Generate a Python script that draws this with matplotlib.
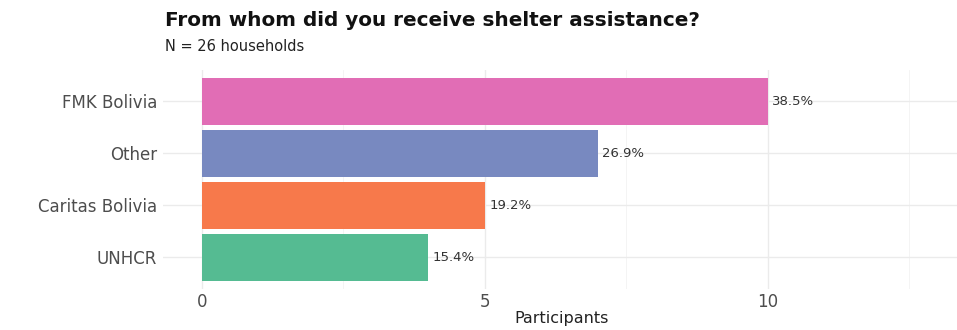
import matplotlib.pyplot as plt
from matplotlib.ticker import MultipleLocator

plt.rcParams['font.family'] = ['DejaVu Sans']

categories = ["UNHCR", "Caritas Bolivia", "Other", "FMK Bolivia"]
counts = [4, 5, 7, 10]
colors = ["#55BB92", "#F7794B", "#7889C0", "#E16DB5"]
total = 26

fig = plt.figure(figsize=(9.57, 3.30), dpi=100)
ax = fig.add_axes([0.170, 0.125, 0.833, 0.663])

ypos = range(1, len(categories) + 1)
ax.barh(list(ypos), counts, height=0.9, color=colors, zorder=2)
for y, c in zip(ypos, counts):
    ax.text(c + 0.08, y, "{:.1f}%".format(100 * c / total), va="center", ha="left",
            fontsize=9.5, color="#333333", zorder=3)

ax.set_xlim(-0.69, 13.4)
ax.set_ylim(0.4, 4.6)
ax.set_yticks(list(ypos))
ax.set_yticklabels(categories)
ax.xaxis.set_major_locator(MultipleLocator(5))
ax.xaxis.set_minor_locator(MultipleLocator(2.5))
ax.grid(True, which="major", color="#ebebeb", linewidth=1.0, zorder=0)
ax.grid(True, which="minor", axis="x", color="#f3f3f3", linewidth=0.6, zorder=0)
ax.tick_params(which="both", length=0, labelsize=12, labelcolor="#4d4d4d")
ax.tick_params(axis="x", pad=3)
ax.tick_params(axis="y", pad=4)
for s in ax.spines.values():
    s.set_visible(False)

ax.set_xlabel("Participants", fontsize=11.5, color="#222222", labelpad=0)
fig.text(0.172, 0.937, "From whom did you receive shelter assistance?",
         fontsize=14.4, fontweight="bold", color="#111111", ha="left", va="center")
fig.text(0.172, 0.858, "N = 26 households", fontsize=10.5, color="#222222",
         ha="left", va="center")

fig.savefig("out.png", dpi=100)
